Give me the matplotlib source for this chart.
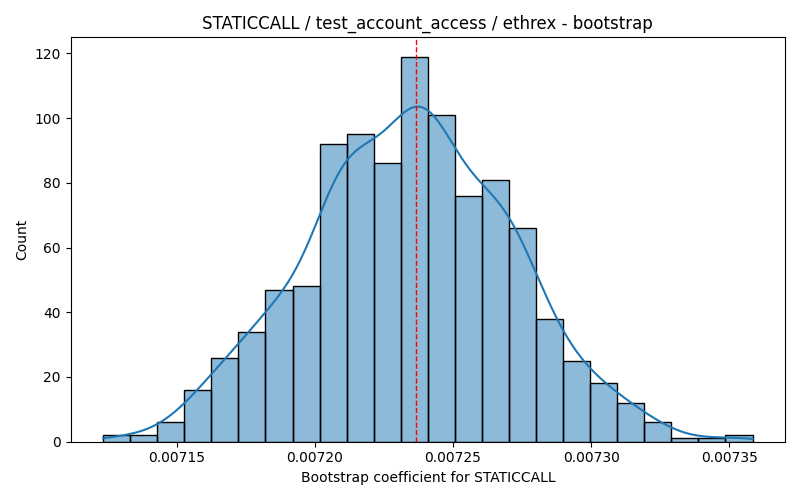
import numpy as np
import matplotlib
matplotlib.use("Agg")
import matplotlib.pyplot as plt

# Histogram: 24 equal bins
bin_lo = 0.0071234
bin_hi = 0.0073584
counts = [2, 2, 6, 16, 26, 34, 47, 48, 92, 95, 86, 119,
          101, 76, 81, 66, 38, 25, 18, 12, 6, 1, 1, 2]
mean_line = 0.0072365

title = "STATICCALL / test_account_access / ethrex - bootstrap"
xlabel = "Bootstrap coefficient for STATICCALL"


def kde_curve(centers, weights, grid, width):
    # weighted gaussian kde with scott's bandwidth, scaled to counts
    n = weights.sum()
    mu = np.average(centers, weights=weights)
    sd = np.sqrt(np.average((centers - mu) ** 2, weights=weights))
    bw = sd * n ** (-1 / 5)
    z = (grid[:, None] - centers[None, :]) / bw
    dens = (np.exp(-0.5 * z ** 2) * weights).sum(axis=1) / (n * bw * np.sqrt(2 * np.pi))
    return dens * n * width


def main():
    c = np.array(counts, dtype=float)
    edges = np.linspace(bin_lo, bin_hi, len(counts) + 1)
    width = edges[1] - edges[0]
    centers = (edges[:-1] + edges[1:]) / 2

    fig, ax = plt.subplots(figsize=(8, 5), dpi=100)
    ax.bar(edges[:-1], c, width=width, align="edge",
           color="#1f77b4", alpha=0.5, edgecolor="none")
    ax.bar(edges[:-1], c, width=width, align="edge",
           fill=False, edgecolor="black", linewidth=1)

    grid = np.linspace(bin_lo, bin_hi, 300)
    ax.plot(grid, kde_curve(centers, c, grid, width), color="#1f77b4", linewidth=1.5)

    ax.axvline(mean_line, color="red", linestyle="--", linewidth=1)

    ax.set_title(title, fontsize=12)
    ax.set_xlabel(xlabel)
    ax.set_ylabel("Count")
    fig.tight_layout()
    fig.savefig("out.png")


if __name__ == "__main__":
    main()
